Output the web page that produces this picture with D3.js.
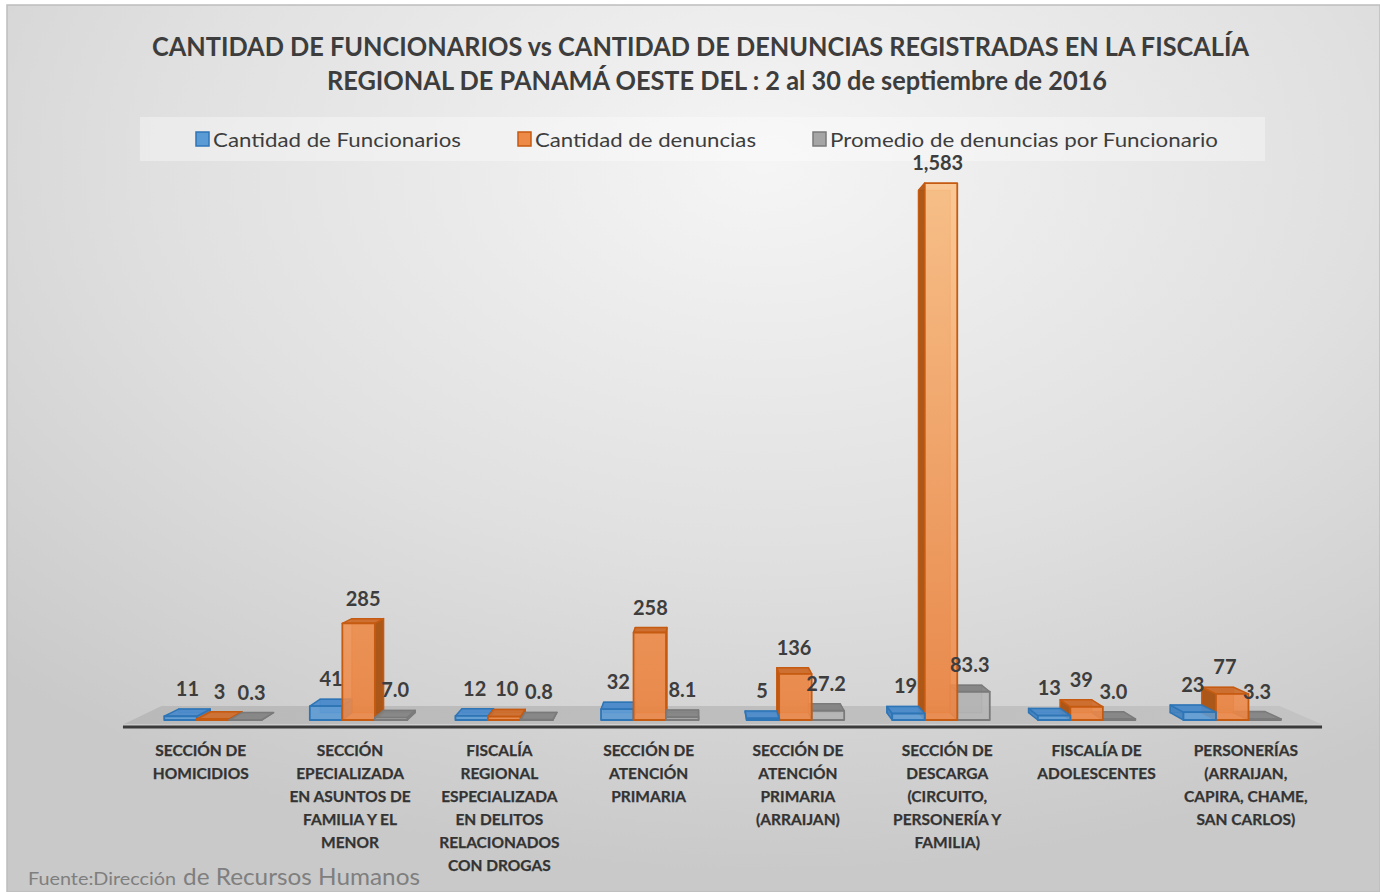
<!DOCTYPE html>
<html><head><meta charset="utf-8">
<script src="https://cdn.jsdelivr.net/npm/d3@7"></script>
<style>html,body{margin:0;padding:0;background:#fff;} svg{display:block;}</style>
</head><body><svg id="chart" width="1380" height="892"></svg>
<script>
// ---------------- data ----------------
const categories = [
  ["SECCIÓN DE","HOMICIDIOS"],
  ["SECCIÓN","EPECIALIZADA","EN ASUNTOS DE","FAMILIA Y EL","MENOR"],
  ["FISCALÍA","REGIONAL","ESPECIALIZADA","EN DELITOS","RELACIONADOS","CON DROGAS"],
  ["SECCIÓN DE","ATENCIÓN","PRIMARIA"],
  ["SECCIÓN DE","ATENCIÓN","PRIMARIA","(ARRAIJAN)"],
  ["SECCIÓN DE","DESCARGA","(CIRCUITO,","PERSONERÍA Y","FAMILIA)"],
  ["FISCALÍA DE","ADOLESCENTES"],
  ["PERSONERÍAS","(ARRAIJAN,","CAPIRA, CHAME,","SAN CARLOS)"]
];
const seriesNames = ["Cantidad de Funcionarios","Cantidad de denuncias","Promedio de denuncias por Funcionario"];
const funcionarios = [11,41,12,32,5,19,13,23];
const denuncias    = [3,285,10,258,136,1583,39,77];
const promedio     = [0.3,7.0,0.8,8.1,27.2,83.3,3.0,3.3];
const titleLines = ["CANTIDAD DE FUNCIONARIOS vs CANTIDAD DE DENUNCIAS REGISTRADAS EN LA FISCALÍA",
                    "REGIONAL DE PANAMÁ OESTE DEL : 2 al 30 de septiembre de 2016"];
const sourceSmall = "Fuente:Dirección";
const sourceLarge = "de Recursos Humanos";

// ---------------- setup ----------------
const W = 1380, H = 892;
const svg = d3.select("#chart");
const defs = svg.append("defs");
const bg = defs.append("radialGradient").attr("id","bg").attr("cx","55%").attr("cy","18%").attr("r","80%");
bg.append("stop").attr("offset","0%").attr("stop-color","#f5f5f5");
bg.append("stop").attr("offset","55%").attr("stop-color","#e0e0e0");
bg.append("stop").attr("offset","100%").attr("stop-color","#c9c9c9");

svg.append("rect").attr("x",7).attr("y",5).attr("width",W-7).attr("height",H-5)
  .attr("fill","url(#bg)").attr("stroke","#bdbdbd").attr("stroke-width",1.5);

const FONT = "Lato, 'Open Sans', sans-serif";
const TXT = "#3d3d3d";

// ---------------- scales / projection ----------------
const VP = {x:695, y:450};
const sFront = 1, sBack = 0.973;
const sFloorFront = 1.0148, sFloorBack = 0.948, sLabel = 1.0254;
const P = (x, y, s) => [VP.x + s*(x - VP.x), VP.y + s*(y - VP.y)];

const x = d3.scaleBand().domain(d3.range(categories.length)).range([140.2, 1305])
  .paddingInner(0.33).paddingOuter(0.165);
const xs = d3.scaleBand().domain([0,1,2]).range([0, x.bandwidth()]);
const y = d3.scaleLinear().domain([0,1600]).range([720, 720 - 1600*0.3392]);

const series = [
  {values: funcionarios, fmt: d3.format(","), front:"#5b9bd5", side:"#3f7fbf", top:"#4a8acb", stroke:"#2e75b6"},
  {values: denuncias, fmt: d3.format(","), front:"url(#og)", side:"#a9510f", top:"#cf6c2c", stroke:"#c55a11"},
  {values: promedio, fmt: d3.format(".1f"), front:"#b5b5b5", side:"#8f8f8f", top:"#838383", stroke:"#7a7a7a"}
];
const og = defs.append("linearGradient").attr("id","og").attr("gradientUnits","userSpaceOnUse")
  .attr("x1",0).attr("x2",0).attr("y1",y(1583)).attr("y2",y(0));
og.append("stop").attr("offset","0%").attr("stop-color","#fcc389");
og.append("stop").attr("offset","100%").attr("stop-color","#ee8746");

// ---------------- title ----------------
svg.append("text").attr("x",152).attr("y",56).attr("font-family",FONT).attr("font-weight",700)
  .attr("font-size",26).attr("fill",TXT).attr("textLength",1097).attr("lengthAdjust","spacingAndGlyphs")
  .text(titleLines[0]);
svg.append("text").attr("x",327).attr("y",90).attr("font-family",FONT).attr("font-weight",700)
  .attr("font-size",26).attr("fill",TXT).attr("textLength",780).attr("lengthAdjust","spacingAndGlyphs")
  .text(titleLines[1]);

// ---------------- legend ----------------
svg.append("rect").attr("x",140).attr("y",117).attr("width",1125).attr("height",44)
  .attr("fill","#ffffff").attr("opacity",0.35);
const legendPos = [{sx:196, tx:213, tw:248},{sx:518, tx:535, tw:221},{sx:813, tx:830, tw:388}];
const legColors = [["#5b9bd5","#2e75b6"],["#ee8a48","#c55a11"],["#a5a5a5","#7a7a7a"]];
seriesNames.forEach((n,i)=>{
  svg.append("rect").attr("x",legendPos[i].sx).attr("y",132).attr("width",13).attr("height",14)
    .attr("fill",legColors[i][0]).attr("stroke",legColors[i][1]).attr("stroke-width",1.5);
  svg.append("text").attr("x",legendPos[i].tx).attr("y",147).attr("font-family",FONT)
    .attr("font-size",20).attr("fill",TXT).attr("textLength",legendPos[i].tw)
    .attr("lengthAdjust","spacingAndGlyphs").text(n);
});

// ---------------- floor ----------------
const fx0 = x.range()[0] - 7.9, fx1 = x.range()[1] + 6.9, fy = y(0);
const floorPts = [P(fx0,fy,sFloorFront),P(fx1,fy,sFloorFront),P(fx1,fy,sFloorBack),P(fx0,fy,sFloorBack)];
const fg = defs.append("linearGradient").attr("id","floorg").attr("x1",0).attr("x2",1).attr("y1",0).attr("y2",0);
fg.append("stop").attr("offset","0%").attr("stop-color","#b9b9b9");
fg.append("stop").attr("offset","100%").attr("stop-color","#c3c3c3");
svg.append("polygon").attr("points",floorPts.map(p=>p.join(",")).join(" "))
  .attr("fill","url(#floorg)");
svg.append("line").attr("x1",floorPts[0][0]-1).attr("x2",floorPts[1][0]+1)
  .attr("y1",floorPts[0][1]+3).attr("y2",floorPts[1][1]+3)
  .attr("stroke","#3a3a3a").attr("stroke-width",3);

// ---------------- bars ----------------
const bars = [];
categories.forEach((c,i)=>{
  series.forEach((s,j)=>{
    const x0 = x(i) + xs(j), x1 = x0 + xs.bandwidth();
    bars.push({i, j, s, v: s.values[i], x0, x1, cx:(x0+x1)/2});
  });
});
bars.sort((a,b)=>Math.abs(b.cx-VP.x)-Math.abs(a.cx-VP.x));
const pts = arr => arr.map(p=>p.join(",")).join(" ");
const gBars = svg.append("g");
bars.forEach(b=>{
  const yT = y(b.v), yB = y(0);
  const g = gBars.append("g");
  const back = [P(b.x0,yT,sBack),P(b.x1,yT,sBack),P(b.x1,yB,sBack),P(b.x0,yB,sBack)];
  g.append("polygon").attr("points",pts(back)).attr("fill",b.s.side).attr("fill-opacity",0.5)
    .attr("stroke",b.s.stroke).attr("stroke-width",1.2).attr("stroke-opacity",0.7);
  const sx = b.cx < VP.x ? b.x1 : b.x0;
  const side = [P(sx,yT,sFront),P(sx,yT,sBack),P(sx,yB,sBack),P(sx,yB,sFront)];
  g.append("polygon").attr("points",pts(side)).attr("fill",b.s.side).attr("fill-opacity",0.9)
    .attr("stroke",b.s.stroke).attr("stroke-width",1.5).attr("stroke-linejoin","round");
  if (yT > VP.y) {
    const top = [P(b.x0,yT,sFront),P(b.x1,yT,sFront),P(b.x1,yT,sBack),P(b.x0,yT,sBack)];
    g.append("polygon").attr("points",pts(top)).attr("fill",b.s.top).attr("fill-opacity",0.92)
      .attr("stroke",b.s.stroke).attr("stroke-width",1.5).attr("stroke-linejoin","round");
  }
  const front = [P(b.x0,yT,sFront),P(b.x1,yT,sFront),P(b.x1,yB,sFront),P(b.x0,yB,sFront)];
  g.append("polygon").attr("points",pts(front)).attr("fill",b.s.front).attr("fill-opacity",0.88)
    .attr("stroke",b.s.stroke).attr("stroke-width",1.8).attr("stroke-linejoin","round");
  b.labelX = (P(b.cx,yT,sFront)[0] + P(b.cx,yT,sBack)[0]) / 2;
  b.labelY = Math.min(P(b.cx,yT,sFront)[1], P(b.cx,yT,sBack)[1]) - 13;
});

// ---------------- data labels ----------------
bars.forEach(b=>{
  svg.append("text").attr("x",b.labelX).attr("y",b.labelY).attr("text-anchor","middle")
    .attr("font-family",FONT).attr("font-weight",700).attr("font-size",20).attr("fill",TXT)
    .text(b.s.fmt(b.v));
});

// ---------------- category labels ----------------
categories.forEach((lines,i)=>{
  const cx = P(x(i)+x.bandwidth()/2, 0, sLabel)[0];
  const t = svg.append("text").attr("text-anchor","middle").attr("font-family",FONT)
    .attr("font-weight",700).attr("font-size",15.5).attr("fill","#333333")
    .attr("stroke","#333333").attr("stroke-width",0.25);
  lines.forEach((l,k)=>{
    t.append("tspan").attr("x",cx).attr("y",756 + k*23).text(l);
  });
});

// ---------------- source ----------------
svg.append("text").attr("x",28).attr("y",885).attr("font-family",FONT).attr("fill","#7f7f7f")
  .attr("font-size",18).attr("textLength",148).attr("lengthAdjust","spacingAndGlyphs").text(sourceSmall);
svg.append("text").attr("x",183).attr("y",885).attr("font-family",FONT).attr("fill","#7f7f7f")
  .attr("font-size",24).attr("textLength",237).attr("lengthAdjust","spacingAndGlyphs").text(sourceLarge);
</script></body></html>
